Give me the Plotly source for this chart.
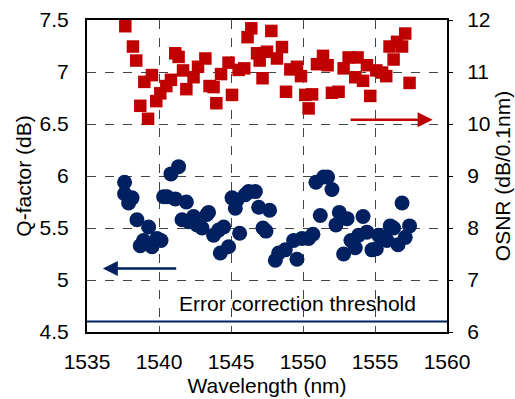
import plotly.graph_objects as go

# OSNR data (right axis, dB/0.1nm)
osnr_wl = [1537.66, 1538.19, 1538.42, 1539.51, 1538.98, 1538.70, 1539.24, 1539.81, 1540.09, 1540.51,
           1540.83, 1541.13, 1541.36, 1541.67, 1541.90, 1542.40, 1542.71, 1543.22, 1543.51, 1543.79,
           1543.98, 1544.31, 1544.83, 1545.07, 1545.53, 1545.92, 1546.15, 1546.41, 1546.81, 1546.99,
           1547.19, 1547.50, 1547.80, 1548.19, 1548.54, 1548.82, 1549.12, 1549.58, 1549.86, 1550.16,
           1550.63, 1550.39, 1550.97, 1551.39, 1551.71, 1552.01, 1552.47, 1552.82, 1553.17, 1553.79,
           1553.63, 1554.17, 1554.44, 1554.67, 1555.09, 1555.49, 1555.78, 1556.01, 1556.29, 1556.53,
           1556.88, 1557.10, 1557.40]
osnr_val = [11.88, 11.49, 11.22, 10.94, 10.81, 10.35, 10.10, 10.44, 10.59, 10.73,
            10.85, 11.36, 11.29, 11.03, 10.67, 10.90, 11.10, 11.26, 10.73, 10.71,
            10.40, 10.96, 11.18, 10.56, 11.04, 11.07, 11.67, 11.84, 11.36, 11.22,
            10.88, 11.39, 11.79, 11.26, 11.48, 10.62, 11.05, 11.10, 10.92, 10.56,
            10.57, 10.30, 11.15, 11.31, 11.13, 10.60, 10.62, 11.07, 11.28, 11.28,
            10.90, 10.83, 11.13, 10.54, 11.03, 10.99, 10.92, 11.49, 11.24, 11.58,
            11.49, 11.74, 10.79]

# Q-factor data (left axis, dB)
q_wl = [1537.61, 1537.61, 1538.13, 1537.89, 1538.47, 1539.28, 1538.93, 1538.70, 1539.51, 1539.86,
        1540.14, 1540.32, 1540.56, 1540.83, 1541.36, 1541.13, 1541.90, 1541.60, 1542.06, 1542.40,
        1542.64, 1542.99, 1543.33, 1543.44, 1543.79, 1544.14, 1544.49, 1544.83, 1544.26, 1545.07,
        1545.42, 1545.30, 1545.99, 1546.22, 1546.69, 1546.92, 1547.68, 1547.22, 1547.43, 1545.60,
        1548.08, 1548.31, 1548.77, 1549.58, 1549.35, 1549.93, 1550.39, 1550.69, 1550.90, 1551.43,
        1551.71, 1552.01, 1551.20, 1552.29, 1552.52, 1553.06, 1552.82, 1553.33, 1553.63, 1553.86,
        1554.17, 1554.44, 1554.79, 1555.09, 1555.25, 1555.60, 1555.83, 1556.06, 1556.29, 1556.60,
        1556.88, 1557.10, 1557.40]
q_val = [5.94, 5.83, 5.79, 5.74, 5.58, 5.51, 5.38, 5.33, 5.32, 5.40,
         5.38, 5.80, 5.80, 6.02, 6.09, 5.78, 5.75, 5.58, 5.56, 5.61,
         5.53, 5.50, 5.63, 5.65, 5.43, 5.48, 5.51, 5.32, 5.26, 5.79,
         5.77, 5.69, 5.82, 5.85, 5.85, 5.70, 5.67, 5.50, 5.47, 5.45,
         5.19, 5.26, 5.29, 5.20, 5.38, 5.40, 5.40, 5.44, 5.94, 5.99,
         5.99, 5.87, 5.62, 5.53, 5.65, 5.59, 5.25, 5.38, 5.31, 5.43,
         5.61, 5.46, 5.29, 5.30, 5.43, 5.41, 5.38, 5.52, 5.50, 5.34,
         5.74, 5.41, 5.52]

threshold_q = 4.6
x_ticks = [1535, 1540, 1545, 1550, 1555, 1560]
yl_ticks = [4.5, 5, 5.5, 6, 6.5, 7, 7.5]
yr_ticks = [6, 7, 8, 9, 10, 11, 12]

RED = "#C00000"
BLUE = "#002060"
FONT = "Liberation Sans, Arial, sans-serif"
FS = 21

fig = go.Figure()
fig.add_trace(go.Scatter(x=q_wl, y=q_val, mode="markers",
                         marker=dict(symbol="circle", size=15, color=BLUE),
                         showlegend=False))
fig.add_trace(go.Scatter(x=osnr_wl, y=osnr_val, mode="markers", yaxis="y2",
                         marker=dict(symbol="square", size=12.5, color=RED),
                         showlegend=False))

fig.add_shape(type="line", xref="x", yref="y", x0=x_ticks[0], x1=x_ticks[-1],
              y0=threshold_q, y1=threshold_q, line=dict(color=BLUE, width=2))

fig.add_annotation(x=1549.6, y=4.77, xref="x", yref="y", text="Error correction threshold",
                   showarrow=False, font=dict(family=FONT, size=FS, color="black"))

# Arrows
fig.add_annotation(x=1536.1, y=5.11, ax=1541.3, ay=5.11, xref="x", yref="y",
                   axref="x", ayref="y", text="", showarrow=True, arrowhead=2,
                   arrowsize=1.2, arrowwidth=2.5, arrowcolor=BLUE)
fig.add_annotation(x=1559.0, y=6.54, ax=1553.2, ay=6.54, xref="x", yref="y",
                   axref="x", ayref="y", text="", showarrow=True, arrowhead=2,
                   arrowsize=1.2, arrowwidth=2.5, arrowcolor=RED)

grid = dict(showgrid=True, gridcolor="#444444", griddash="dash", gridwidth=1)
fig.update_layout(
    width=515, height=399,
    margin=dict(l=87, r=68, t=20, b=67),
    paper_bgcolor="white", plot_bgcolor="white",
    font=dict(family=FONT, size=FS, color="black"),
    xaxis=dict(range=[x_ticks[0], x_ticks[-1]], tickvals=x_ticks, **grid,
               zeroline=False, showline=True, linecolor="black", linewidth=2, mirror=True,
               ticks="", ticklabelstandoff=10, automargin=False,
               title=dict(text="Wavelength (nm)", font=dict(size=FS), standoff=6)),
    yaxis=dict(range=[yl_ticks[0], yl_ticks[-1]], tickvals=yl_ticks,
               ticktext=[("%g" % v) for v in yl_ticks], **grid,
               zeroline=False, showline=True, linecolor="black", linewidth=2, mirror=True,
               ticks="", ticklabelstandoff=12, automargin=False,
               title=dict(text="Q-factor (dB)", font=dict(size=FS), standoff=2)),
    yaxis2=dict(range=[yr_ticks[0], yr_ticks[-1]], tickvals=yr_ticks, overlaying="y", side="right",
                showgrid=False, zeroline=False, ticks="outside", ticklen=5, tickcolor="black",
                ticklabelstandoff=10, automargin=False,
                title=dict(text="OSNR (dB/0.1nm)", font=dict(size=FS), standoff=2)),
)
fig.write_html("out.html")
